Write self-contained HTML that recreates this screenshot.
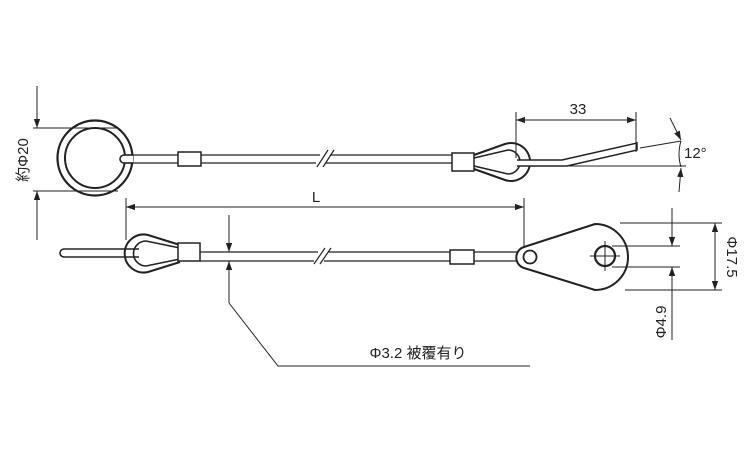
<!DOCTYPE html>
<html><head><meta charset="utf-8"><style>
html,body{margin:0;padding:0;background:#fff}
svg{display:block}
text{font-family:"Liberation Sans","Noto Sans CJK JP",sans-serif;fill:#222}
</style></head><body>
<svg width="750" height="450" viewBox="0 0 750 450" xmlns="http://www.w3.org/2000/svg">
<defs>
<marker id="a" viewBox="0 0 10 10" refX="10" refY="5" markerWidth="9" markerHeight="9" orient="auto-start-reverse" markerUnits="userSpaceOnUse"><path d="M0,1.5 L10,5 L0,8.5 Z" fill="#222"/></marker>
</defs>
<g fill="none" stroke="#222" stroke-width="1.2">
<!-- Top ring -->
<circle cx="95" cy="158" r="37.5" stroke-width="2.2"/>
<circle cx="95" cy="158" r="30" stroke-width="2"/>
<path d="M133,155 H124 A4,4 0 0 0 124,163 H133" stroke-width="1.6" fill="#fff"/>
<!-- top wire -->
<path d="M124,155 H320 M124,163 H316 M330,155 H452 M326,163 H452"/>
<path d="M317,167 L328,150 M323,167 L334,150"/>
<rect x="178" y="152" width="23" height="14" fill="#fff" stroke-width="1.5"/>
<rect x="452" y="153" width="22" height="18" fill="#fff" stroke-width="1.5"/>
<!-- top thimble -->
<path d="M474,155 L505,144 A19,19 0 1 1 505,180 L474,169" stroke-width="2"/>
<path d="M474,158 L508,150 A12,12 0 1 1 508,174 L474,166" stroke-width="1.6"/>
<path d="M517,160 H562 L637,143 V150 L567,166 H517" fill="#fff" stroke-width="1.5"/>
<!-- 33 dim -->
<path d="M516,112 V158 M636,112 V152" stroke-width="1"/>
<path d="M516,120 H636" stroke-width="1" marker-start="url(#a)" marker-end="url(#a)"/>
<!-- 12 deg -->
<path d="M640,148 L681,141 M569,166 H686" stroke-width="1"/>
<path d="M681,141 Q677,154 681,167" stroke-width="1"/>
<path d="M670,118 L681,140" stroke-width="1" marker-end="url(#a)"/>
<path d="M679,192 L681,168" stroke-width="1" marker-end="url(#a)"/>
<!-- 約Φ20 -->
<path d="M33,128 H118 M33,191 H118" stroke-width="1"/>
<path d="M37,86 V128" stroke-width="1" marker-end="url(#a)"/>
<path d="M37,240 V191" stroke-width="1" marker-end="url(#a)"/>
<!-- L dim -->
<path d="M126,198 V240 M524,198 V250" stroke-width="1"/>
<path d="M126,207 H524" stroke-width="1" marker-start="url(#a)" marker-end="url(#a)"/>
<!-- bottom left stub and thimble -->
<path d="M135,249 H64 A4,4 0 0 0 64,257 H135" fill="#fff" stroke-width="1.6"/>
<path d="M180,245 L148,235 A19,19 0 1 0 148,272 L180,262" stroke-width="2"/>
<path d="M180,248 L146,241 A12,12 0 1 0 146,266 L180,259" stroke-width="1.6"/>
<path d="M134,249 H139 M134,257 H139" stroke-width="1.6"/>
<!-- bottom wire -->
<path d="M200,252 H318 M200,261 H314 M328,252 H521 M324,261 H521"/>
<path d="M314,264 L325,248 M320,264 L331,248"/>
<rect x="178" y="243" width="22" height="18" fill="#fff" stroke-width="1.5"/>
<rect x="450" y="250" width="24" height="14" fill="#fff" stroke-width="1.5"/>
<!-- plate -->
<path d="M524,247 L595,224 A33,33 0 1 1 595,290 L524,268 A11,11 0 0 1 524,247 Z" fill="#fff" stroke-width="2"/>
<circle cx="530" cy="257" r="6.5" stroke-width="1.8"/>
<circle cx="605" cy="256" r="10" stroke-width="2.2"/>
<path d="M605,241 V271 M590,256 H620" stroke-width="1"/>
<!-- Φ17.5 -->
<path d="M620,223 H722 M625,290 H722" stroke-width="1"/>
<path d="M715,223 V290" stroke-width="1" marker-start="url(#a)" marker-end="url(#a)"/>
<!-- Φ4.9 -->
<path d="M612,246 H680 M612,267 H680" stroke-width="1"/>
<path d="M672,208 V246" stroke-width="1" marker-end="url(#a)"/>
<path d="M672,340 V267" stroke-width="1" marker-end="url(#a)"/>
<!-- Φ3.2 leader -->
<path d="M229,215 V252" stroke-width="1" marker-end="url(#a)"/>
<path d="M229,303 V261" stroke-width="1" marker-end="url(#a)"/>
<path d="M229,303 L278,366 H530" stroke-width="1"/>
</g>
<text x="578" y="114" font-size="15" text-anchor="middle">33</text>
<text x="684" y="158" font-size="15">12°</text>
<text x="316" y="202" font-size="15" text-anchor="middle">L</text>
<text x="418" y="358" font-size="15" text-anchor="middle">Φ3.2 被覆有り</text>
<text transform="translate(28,160) rotate(-90)" font-size="15" text-anchor="middle">約Φ20</text>
<text transform="translate(727,257) rotate(90)" font-size="15" text-anchor="middle">Φ17.5</text>
<text transform="translate(666,322) rotate(-90)" font-size="15" text-anchor="middle">Φ4.9</text>
</svg>
</body></html>
